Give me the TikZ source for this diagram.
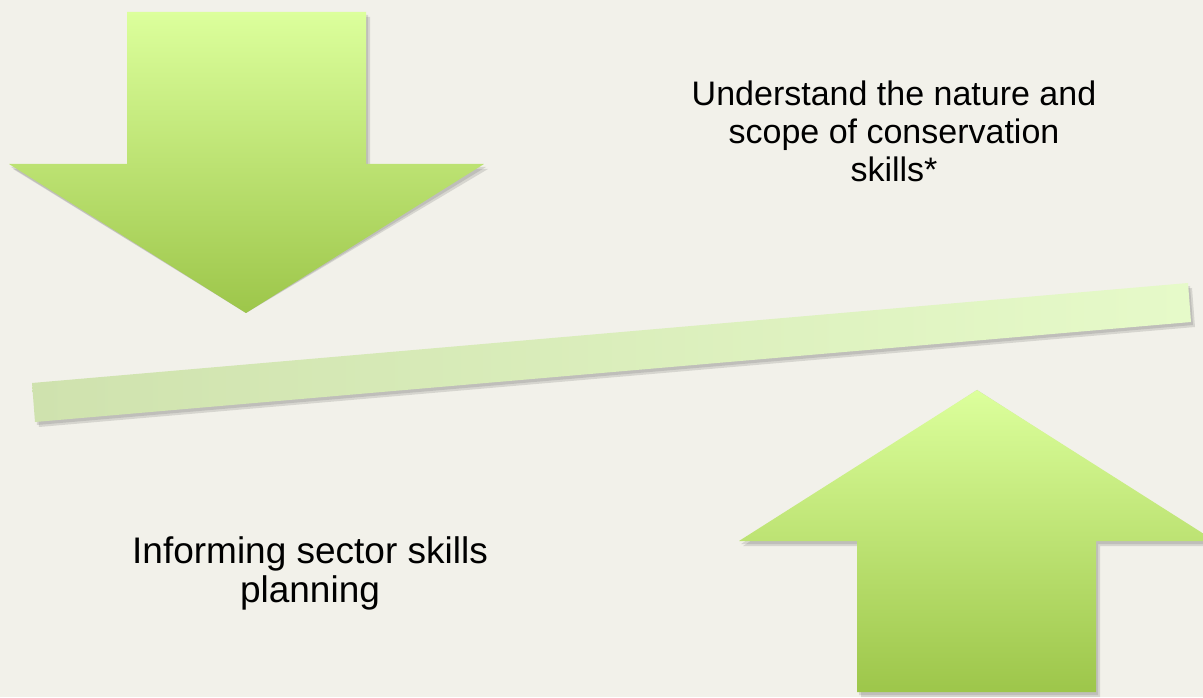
\documentclass[tikz,border=0pt]{standalone}
\usepackage{fontspec}
\setmainfont{Liberation Sans}
\usetikzlibrary{calc}
\definecolor{paper}{HTML}{F2F1EA}
\definecolor{lime}{HTML}{DCFF9C}
\definecolor{leaf}{HTML}{9DC64A}
\definecolor{beamL}{HTML}{CFE2AE}
\definecolor{beamR}{HTML}{E6FAC9}

\begin{document}
\begin{tikzpicture}[x=1pt,y=1pt]
    \fill [paper] (0,0) rectangle (1203,697);
    \useasboundingbox (0,0) rectangle (1203,697);
    \coordinate (DownTip) at (246,384);
    \coordinate (UpTip) at (977,307);
    \tikzset{arrowfill/.style={top color=lime,bottom color=leaf},
      shadowfill/.style={fill=black!60,opacity=.2},
      label/.style={align=center,anchor=base,inner sep=0pt}}
    % shadows, two soft layers
    \foreach \dx/\dy in {2/-3,4/-5}{
      \begin{scope}[shift={(\dx,\dy)}]
        \fill [shadowfill] (127,685)--(366,685)--(366,533)--(484,533)--(DownTip)--(9,533)--(127,533)--cycle;
        \fill [shadowfill] (32,314)--(1188,414)--(1191,375)--(35,275)--cycle;
        \fill [shadowfill] (857,5)--(857,156)--(739,156)--(UpTip)--(1215,156)--(1096,156)--(1096,5)--cycle;
      \end{scope}
    }
    % down arrow
    \shade [arrowfill] (127,685)--(366,685)--(366,533)--(484,533)--(DownTip)--(9,533)--(127,533)--cycle;
    % beam
    \shade [left color=beamL,right color=beamR] (32,314)--(1188,414)--(1191,375)--(35,275)--cycle;
    % up arrow
    \shade [arrowfill] (857,5)--(857,156)--(739,156)--(UpTip)--(1215,156)--(1096,156)--(1096,5)--cycle;
    \node [label,font=\fontsize{34}{38}\selectfont] (Scope) at (894,515) {Understand the nature and\\scope of conservation\\skills*};
    \node [label,font=\fontsize{37}{39}\selectfont] (Plan) at (310,95) {Informing sector skills\\planning};
  \end{tikzpicture}
\end{document}
